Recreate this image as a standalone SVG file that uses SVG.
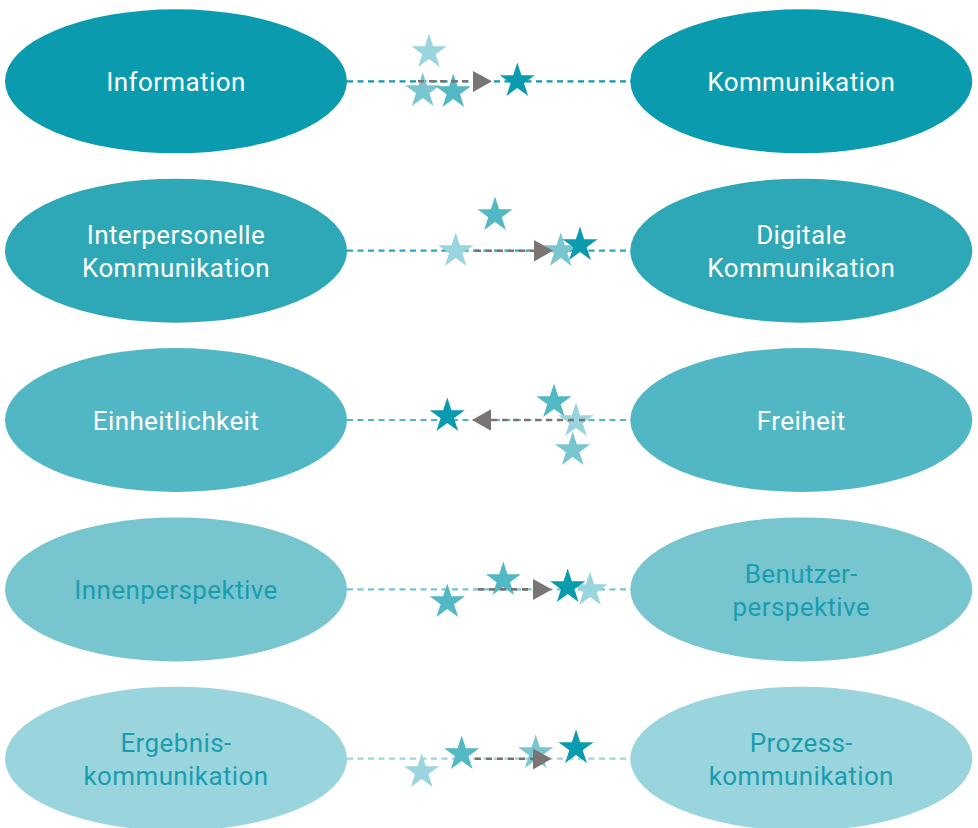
<svg xmlns="http://www.w3.org/2000/svg" width="978" height="828" viewBox="0 0 978 828">
<defs>
<style>
.t{font-family:Roboto,"Liberation Sans",sans-serif;font-size:26px;font-weight:400;text-anchor:middle;letter-spacing:0.4px}
.w{fill:#ffffff}
.d{fill:#1b9db0}
.ln{fill:none;stroke-width:2.2;stroke-dasharray:6 4.5}
.g{fill:none;stroke:#7a7573;stroke-width:2.6;stroke-dasharray:6 5}
.ah{fill:#7a7573}
.s1{fill:#0b9bae}
.s2{fill:#52b8c4}
.s3{fill:#79c6d0}
.s4{fill:#9ad5de}
</style>
<path id="star" d="M0,-18.5 L4.16,-5.72 L17.59,-5.72 L6.72,2.18 L10.87,14.97 L0,7.07 L-10.87,14.97 L-6.72,2.18 L-17.59,-5.72 L-4.16,-5.72 Z"/>
</defs>
<rect width="978" height="828" fill="#ffffff"/>

<g id="nodes">
<g id="n-information"><ellipse cx="176" cy="81.3" rx="171" ry="72" fill="#0b9bae"/><text class="t w" x="176" y="91">Information</text></g>
<g id="n-kommunikation"><ellipse cx="801.3" cy="81.3" rx="171" ry="72" fill="#0b9bae"/><text class="t w" x="801.3" y="91">Kommunikation</text></g>
<g id="n-interpersonelle"><ellipse cx="176" cy="250.7" rx="171" ry="72" fill="#2ea8b7"/><text class="t w" x="176" y="244"><tspan x="176">Interpersonelle</tspan><tspan x="176" y="277">Kommunikation</tspan></text></g>
<g id="n-digitale"><ellipse cx="801.3" cy="250.7" rx="171" ry="72" fill="#2ea8b7"/><text class="t w" x="801.3" y="244"><tspan x="801.3">Digitale</tspan><tspan x="801.3" y="277">Kommunikation</tspan></text></g>
<g id="n-einheitlichkeit"><ellipse cx="176" cy="420" rx="171" ry="72" fill="#52b7c4"/><text class="t w" x="176" y="429.5">Einheitlichkeit</text></g>
<g id="n-freiheit"><ellipse cx="801.3" cy="420" rx="171" ry="72" fill="#52b7c4"/><text class="t w" x="801.3" y="429.5">Freiheit</text></g>
<g id="n-innenperspektive"><ellipse cx="176" cy="589.4" rx="171" ry="72" fill="#77c5cf"/><text class="t d" x="176" y="599">Innenperspektive</text></g>
<g id="n-benutzer"><ellipse cx="801.3" cy="589.4" rx="171" ry="72" fill="#77c5cf"/><text class="t d" x="801.3" y="583"><tspan x="801.3">Benutzer-</tspan><tspan x="801.3" y="616">perspektive</tspan></text></g>
<g id="n-ergebnis"><ellipse cx="176" cy="758.7" rx="171" ry="72" fill="#9ad5dd"/><text class="t d" x="176" y="752"><tspan x="176">Ergebnis-</tspan><tspan x="176" y="785">kommunikation</tspan></text></g>
<g id="n-prozess"><ellipse cx="801.3" cy="758.7" rx="171" ry="72" fill="#9ad5dd"/><text class="t d" x="801.3" y="752"><tspan x="801.3">Prozess-</tspan><tspan x="801.3" y="785">kommunikation</tspan></text></g>
</g>

<g id="connectors">
<line class="ln" x1="347" y1="81.3" x2="631" y2="81.3" stroke="#0b9bae"/>
<line class="ln" x1="347" y1="250.7" x2="631" y2="250.7" stroke="#2ea8b7"/>
<line class="ln" x1="347" y1="420" x2="631" y2="420" stroke="#52b7c4"/>
<line class="ln" x1="347" y1="589.4" x2="631" y2="589.4" stroke="#77c5cf"/>
<line class="ln" x1="347" y1="758.7" x2="631" y2="758.7" stroke="#9ad5dd"/>
</g>

<g id="stars">
<use href="#star" class="s4" x="429" y="52"/>
<use href="#star" class="s3" x="422.7" y="91"/>
<use href="#star" class="s2" x="453.3" y="92"/>
<use href="#star" class="s1" x="517.3" y="81"/>

<use href="#star" class="s2" x="495" y="215"/>
<use href="#star" class="s4" x="455.7" y="251"/>
<use href="#star" class="s3" x="560.7" y="251"/>
<use href="#star" class="s1" x="580" y="245"/>

<use href="#star" class="s1" x="447.3" y="416"/>
<use href="#star" class="s2" x="554" y="402"/>
<use href="#star" class="s3" x="572.7" y="450"/>
<use href="#star" class="s4" x="576" y="421"/>

<use href="#star" class="s2" x="447.3" y="602"/>
<use href="#star" class="s2" x="503.3" y="580"/>
<use href="#star" class="s4" x="590" y="590"/>
<use href="#star" class="s1" x="567.7" y="587"/>

<use href="#star" class="s4" x="421.7" y="772"/>
<use href="#star" class="s2" x="461.7" y="754"/>
<use href="#star" class="s3" x="535.7" y="753"/>
<use href="#star" class="s1" x="576" y="748"/>
</g>

<g id="arrows">
<line class="g" x1="418" y1="81.3" x2="473" y2="81.3"/>
<polygon class="ah" points="473,71 492,81.3 473,92"/>
<line class="g" x1="475" y1="250.7" x2="534" y2="250.7"/>
<polygon class="ah" points="534,240 553,250.7 534,261.5"/>
<line class="g" x1="491" y1="420" x2="588" y2="420"/>
<polygon class="ah" points="491,409.3 472,420 491,430.7"/>
<line class="g" x1="478" y1="589.4" x2="533" y2="589.4"/>
<polygon class="ah" points="533,579 552,589.4 533,600"/>
<line class="g" x1="475" y1="758.7" x2="533" y2="758.7"/>
<polygon class="ah" points="533,748.5 551.5,758.7 533,769.5"/>
</g>
</svg>
